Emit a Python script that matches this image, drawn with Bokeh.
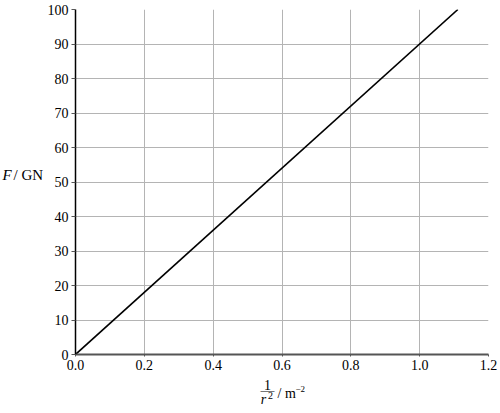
from bokeh.plotting import figure
from bokeh.models import Label, Range1d, FixedTicker
from bokeh.layouts import row, column
from bokeh.embed import file_html
from bokeh.resources import INLINE

# data
inv_r2 = [0.0, 1.111]
force = [0.0, 100.0]
x_ticks = [0.0, 0.2, 0.4, 0.6, 0.8, 1.0, 1.2]
y_ticks = [0, 10, 20, 30, 40, 50, 60, 70, 80, 90, 100]

FONT = "Liberation Serif"

# --- main chart -------------------------------------------------------------
LW = 44            # width of the strip holding the y-axis title
MH = 378           # height of the main chart
p = figure(width=455, height=MH, output_backend="svg", toolbar_location=None,
           x_range=Range1d(0, 1.2), y_range=Range1d(0, 100),
           min_border_left=30, min_border_right=11, min_border_top=9,
           min_border_bottom=24)
p.outline_line_color = None

p.line(inv_r2, force, line_color="black", line_width=1.6)

for ax in (p.xaxis[0], p.yaxis[0]):
    ax.major_label_text_font = FONT
    ax.major_label_text_font_size = "14px"
    ax.major_label_text_color = "black"
    ax.minor_tick_line_color = None
    ax.major_tick_in = 0

p.xaxis.ticker = FixedTicker(ticks=x_ticks)
p.xaxis.major_label_overrides = {t: f"{t:.1f}" for t in x_ticks}
p.yaxis.ticker = FixedTicker(ticks=y_ticks)

p.xaxis.axis_line_color = "#555555"
p.xaxis.axis_line_width = 2
p.xaxis.major_tick_line_color = "#555555"
p.xaxis.major_tick_out = 2
p.xaxis.major_label_standoff = 3

p.yaxis.axis_line_color = "black"
p.yaxis.axis_line_width = 1.5
p.yaxis.major_tick_line_color = "#555555"
p.yaxis.major_tick_out = 4
p.yaxis.major_label_standoff = 3

p.grid.grid_line_color = "#b4b4b4"
p.grid.grid_line_width = 1


def blank(w, h, xr, yr):
    f = figure(width=w, height=h, output_backend="svg", toolbar_location=None,
               x_range=xr, y_range=yr, x_axis_location=None, y_axis_location=None,
               min_border=0)
    f.outline_line_color = None
    f.grid.visible = False
    return f


def lab(f, x, y, text, size, style="normal", align="left"):
    f.add_layout(Label(x=x, y=y, text=text, text_font=FONT, text_font_style=style,
                       text_font_size=size, text_color="black",
                       text_baseline="middle", text_align=align))


# --- y-axis title strip (coordinates = page pixels, y downward) -------------
yl = blank(LW, MH, Range1d(0, LW), Range1d(MH, 0))
lab(yl, 2, 181, "F", "15px", "italic")
lab(yl, 13, 181, "/ GN", "15px")

# --- x-axis title strip -------------------------------------------------------
XH = 33
xl = blank(LW + 455, XH, Range1d(0, LW + 455), Range1d(MH + XH, MH))
lab(xl, 267, 384, "1", "14px", align="center")
lab(xl, 267, 390, "\u2014", "14px", align="center")
lab(xl, 263, 399, "r", "14px", "italic", "center")
lab(xl, 270, 395, "2", "10px", align="center")
lab(xl, 277, 393, "/ m", "14px")
lab(xl, 295, 388, "\u22122", "9px")

layout = column(row(yl, p), xl)
open("out.html", "w").write(file_html(layout, INLINE))
